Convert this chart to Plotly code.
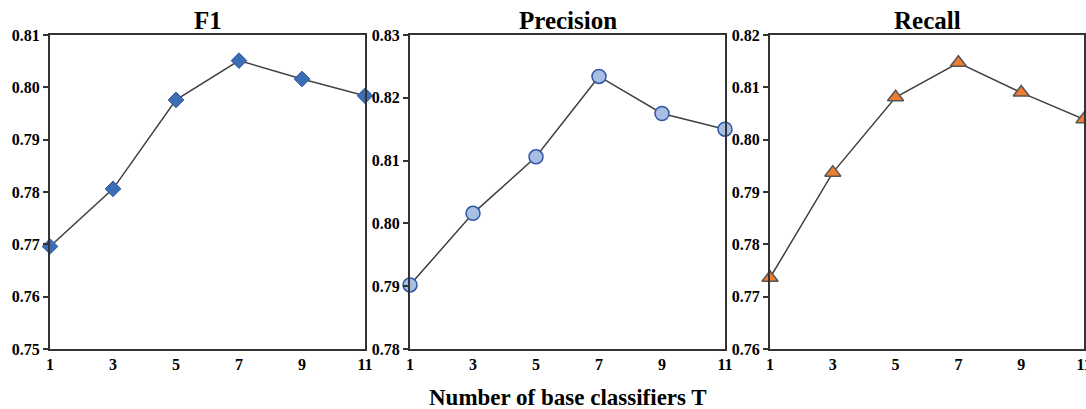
import plotly.graph_objects as go

T = [1, 3, 5, 7, 9, 11]
f1 = [0.7696, 0.7806, 0.7976, 0.8051, 0.8016, 0.7984]
precision = [0.7902, 0.8016, 0.8106, 0.8234, 0.8175, 0.8150]
recall = [0.7736, 0.7937, 0.8081, 0.8147, 0.8090, 0.8039]

titles = ["F1", "Precision", "Recall"]
y_ranges = [[0.75, 0.81], [0.78, 0.83], [0.76, 0.82]]
y_ticks = [
    [0.75, 0.76, 0.77, 0.78, 0.79, 0.80, 0.81],
    [0.78, 0.79, 0.80, 0.81, 0.82, 0.83],
    [0.76, 0.77, 0.78, 0.79, 0.80, 0.81, 0.82],
]
x_label = "Number of base classifiers T"

# figure is slightly wider than the 1086px window so the last tick label is cut by the window edge
W, H = 1100, 409
px_left = [50, 410, 770]
px_right = [365, 725, 1084]
y_top, y_bot = 35, 349

series = [f1, precision, recall]
markers = [
    dict(symbol="diamond", size=12, color="#3D6DB5", line=dict(color="#2A5596", width=1)),
    dict(symbol="circle", size=14, color="#A8BFE3", line=dict(color="#2F56A3", width=1.5)),
    dict(symbol="triangle-up", size=14, color="#ED7D31", line=dict(color="#555555", width=1.5)),
]

fig = go.Figure()
font_family = "Liberation Serif"
tf = dict(family=font_family, size=16, color="#000000", weight="bold")

for i in range(3):
    suffix = "" if i == 0 else str(i + 1)
    fig.add_trace(go.Scatter(
        x=T, y=series[i], mode="lines+markers",
        line=dict(color="#404040", width=1.5),
        marker=markers[i],
        xaxis="x" + suffix, yaxis="y" + suffix,
        cliponaxis=False, showlegend=False,
    ))
    xd = [px_left[i] / W, px_right[i] / W]
    yd = [(H - y_bot) / H, (H - y_top) / H]
    fig.layout["xaxis" + suffix] = dict(
        domain=xd, range=[1, 11], tickvals=T, ticktext=[str(t) for t in T],
        showline=True, linecolor="#333333", linewidth=2, mirror=True,
        showgrid=False, zeroline=False, ticks="", tickfont=tf,
        anchor="y" + suffix, automargin=False,
    )
    fig.layout["yaxis" + suffix] = dict(
        domain=yd, range=y_ranges[i], tickvals=y_ticks[i],
        ticktext=["%.2f" % v for v in y_ticks[i]],
        showline=True, linecolor="#333333", linewidth=2, mirror=True,
        showgrid=False, zeroline=False, ticks="outside", ticklen=5,
        tickwidth=1.5, tickcolor="#333333", tickfont=tf,
        anchor="x" + suffix, automargin=False,
    )
    fig.add_annotation(
        x=(px_left[i] + px_right[i]) / 2 / W, y=(H - 21) / H,
        xref="paper", yref="paper", text=titles[i], showarrow=False,
        font=dict(family=font_family, size=25, color="#000000", weight="bold"),
        xanchor="center", yanchor="middle",
    )

fig.add_annotation(
    x=568 / W, y=(H - 397) / H, xref="paper", yref="paper", text=x_label,
    showarrow=False, xanchor="center", yanchor="middle",
    font=dict(family=font_family, size=23, color="#000000", weight="bold"),
)

fig.update_layout(
    template="none",
    width=W, height=H, margin=dict(l=0, r=0, t=0, b=0, autoexpand=False),
    paper_bgcolor="white", plot_bgcolor="white",
)

fig.write_html(
    "out.html",
    config={"displayModeBar": False},
    post_script="document.body.style.margin='0';document.body.style.overflow='hidden';",
)
